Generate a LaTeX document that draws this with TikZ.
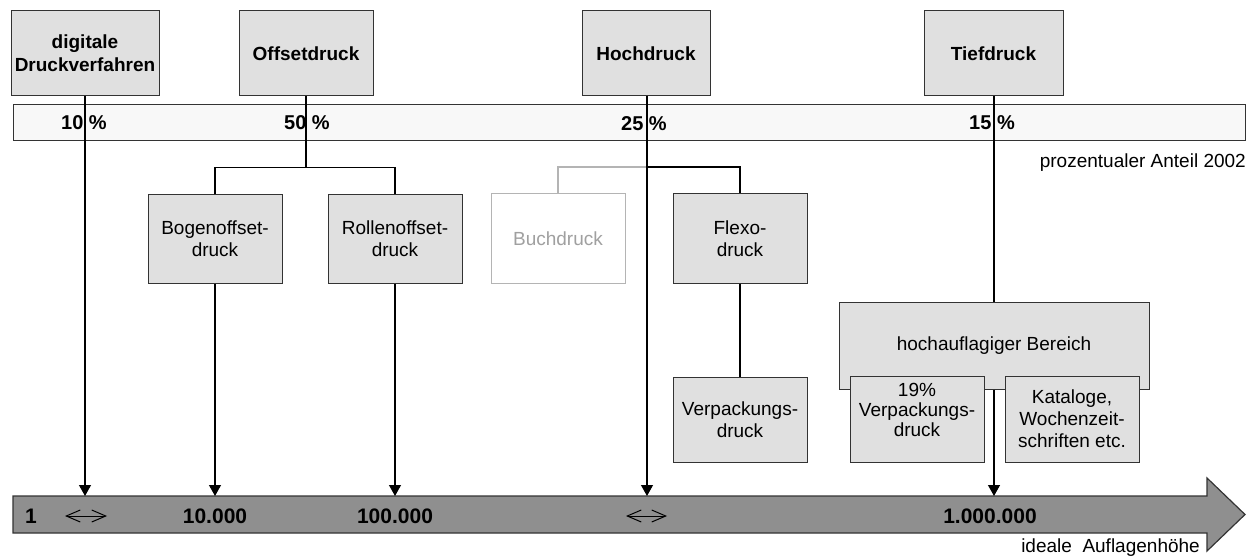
\documentclass[tikz,border=0pt]{standalone}
\usepackage{fontspec}
\setmainfont{Liberation Sans}
\usetikzlibrary{arrows.meta}
\definecolor{boxfill}{HTML}{E0E0E0}
\definecolor{boxline}{HTML}{333333}
\definecolor{barfill}{HTML}{F8F8F8}
\definecolor{axisfill}{HTML}{8F8F8F}
\definecolor{ghostline}{HTML}{B4B4B4}
\definecolor{ghosttext}{HTML}{A0A0A0}
\begin{document}
\begin{tikzpicture}[x=1pt,y=-1pt,
  box/.style={draw=boxline, fill=boxfill, line width=1pt, minimum width=134pt,
    minimum height=86pt, inner sep=0pt, align=center,
    font=\fontsize{19}{22}\selectfont},
  headbox/.style={box, minimum height=85pt, font=\bfseries\fontsize{19}{23}\selectfont},
  ghostbox/.style={box, draw=ghostline, fill=white, text=ghosttext},
  link/.style={line width=1.2pt, draw=black},
  greylink/.style={line width=1.2pt, draw=ghostline},
  tiplink/.style={link, -{Triangle[width=12pt,length=11pt]}},
  pct/.style={font=\bfseries\fontsize{20}{22}\selectfont, inner sep=0pt},
  axislabel/.style={font=\bfseries\fontsize{21}{24}\selectfont, inner sep=0pt},
  caption/.style={font=\fontsize{19}{22}\selectfont, inner sep=0pt},
  both/.style={line width=1pt, {Straight Barb[length=14pt,width=12pt]}-{Straight Barb[length=14pt,width=12pt]}}
]
\useasboundingbox (0,0) rectangle (1260,556);

% share bar
\path[draw=boxline, fill=barfill, line width=1pt] (13,105) rectangle (1245,141);
\node[pct, anchor=base] (p10) at (84,130) {10 \%};
\node[pct, anchor=base] (p50) at (307,130) {50 \%};
\node[pct, anchor=base] (p25) at (644,131) {25 \%};
\node[pct, anchor=base] (p15) at (992,130) {15 \%};
\node[caption, anchor=base east] (share) at (1246,168) {prozentualer Anteil 2002};

% print run axis
\path[fill=axisfill, draw=boxline, line width=1.2pt]
  (13,496) -- (1207,496) -- (1207,478) -- (1245,514.5) -- (1207,551) -- (1207,533) -- (13,533) -- cycle;
\node[axislabel, anchor=base west] (n1) at (25,523) {1};
\node[axislabel, anchor=base] (n4) at (215,523) {10.000};
\node[axislabel, anchor=base] (n5) at (395,523) {100.000};
\node[axislabel, anchor=base] (n6) at (990,523) {1.000.000};
\node[caption, anchor=base east] (runs) at (1200,552) {ideale~ Auflagenhöhe};
\draw[both] (65,516) -- (107,516);
\draw[both] (626,516) -- (667,516);

\coordinate (a1) at (85,496);
\coordinate (a4) at (215,496);
\coordinate (a5) at (395,496);
\coordinate (ah) at (647,496);
\coordinate (a6) at (994,496);

% processes
\node[headbox, minimum width=148pt] (dig) at (85,53.5) {digitale\\Druckverfahren};
\node[headbox, minimum width=134pt] (off) at (306,53.5) {Offsetdruck};
\node[headbox, minimum width=128pt] (hoch) at (646,53.5) {Hochdruck};
\node[headbox, minimum width=139pt] (tief) at (993.5,53.5) {Tiefdruck};

\node[box, minimum height=88pt] (bogen) at (215,239) {Bogenoffset-\\druck};
\node[box, minimum height=88pt] (rolle) at (395,239) {Rollenoffset-\\druck};
\node[ghostbox, minimum height=89pt] (buch) at (558,238.5) {Buchdruck};
\node[box, minimum height=89pt] (flexo) at (740,238.5) {Flexo-\\druck};
\node[box, minimum height=85pt] (verp) at (740,419.5) {Verpackungs-\\druck};

\node[box, minimum width=310pt, minimum height=87pt] (hoch2) at (994,345.5) {hochauflagiger Bereich};
\node[box, minimum height=86pt,
  label={[font=\fontsize{19}{20}\selectfont, align=center, yshift=9pt]center:19\%\\Verpackungs-\\druck}] (verp2) at (917,419) {};
\node[box, minimum height=86pt] (kat) at (1072,419) {Kataloge,\\Wochenzeit-\\schriften etc.};

% connectors
\draw[tiplink] (dig.south) -- (a1);

\draw[link] (off.south) -- ++(0,71) coordinate (offfork);
\draw[link] (bogen.north) |- (offfork) -| (rolle.north);
\draw[tiplink] (bogen.south) -- (a4);
\draw[tiplink] (rolle.south) -- (a5);

\coordinate (hochfork) at (647,167);
\draw[greylink] (buch.north) |- (hochfork);
\draw[link] (hochfork) -| (flexo.north);
\draw[tiplink] (hoch.south -| hochfork) -- (ah);
\draw[link] (flexo.south) -- (verp.north);

\draw[link] (tief.south -| a6) -- (hoch2.north -| a6);
\draw[tiplink] (hoch2.south -| a6) -- (a6);
\end{tikzpicture}
\end{document}
